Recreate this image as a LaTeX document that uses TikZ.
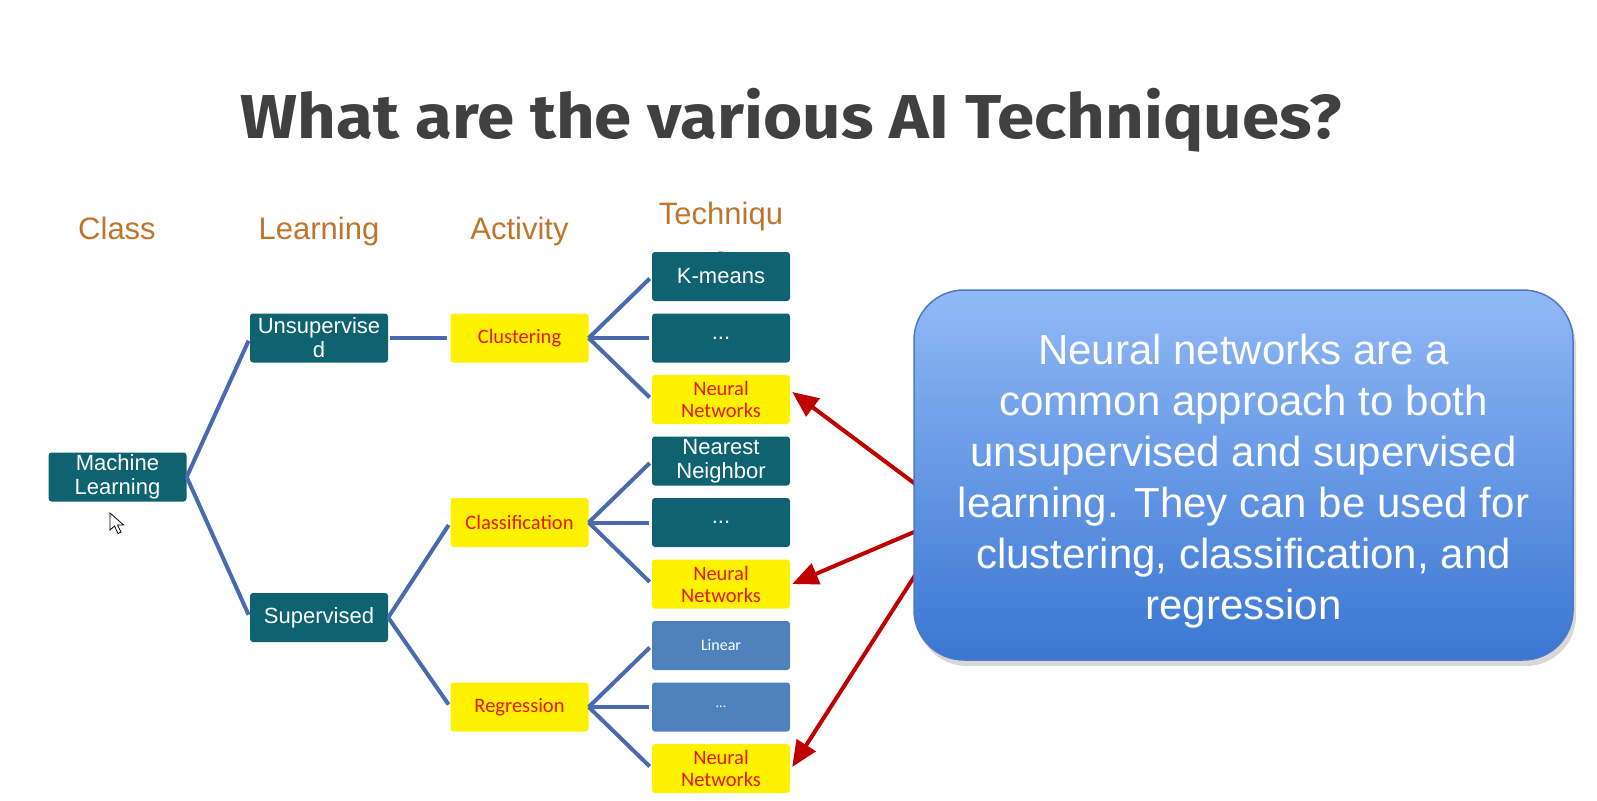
\documentclass[tikz,border=0pt]{standalone}
\usepackage{graphicx}
\usepackage{fontspec}
\setmainfont{Liberation Sans}
\newfontfamily\carl{Carlito}
\newfontfamily\titlef{Fira Sans}
\usetikzlibrary{arrows.meta,shadows}
\definecolor{tealbox}{RGB}{15,98,112}
\definecolor{lightbox}{RGB}{79,129,189}
\definecolor{conncol}{RGB}{74,106,176}
\definecolor{redtxt}{RGB}{228,24,0}
\definecolor{hdr}{RGB}{191,118,44}
\definecolor{titlecol}{RGB}{64,64,64}
\definecolor{arrred}{RGB}{192,0,0}
\definecolor{cotop}{RGB}{145,185,246}
\definecolor{cobot}{RGB}{58,118,210}
\definecolor{coborder}{RGB}{80,120,200}
\begin{document}
\begin{tikzpicture}[x=1pt,y=-1pt,
 box/.style={rounded corners=3pt, minimum width=138pt, minimum height=49pt, inner sep=0pt, align=center},
 tealnode/.style={box, fill=tealbox, text=white, font=\fontsize{22}{24}\selectfont},
 yelnode/.style={box, fill=yellow, text=redtxt, font=\carl\fontsize{20.5}{22}\selectfont},
 lightnode/.style={box, fill=lightbox, text=white, font=\carl\fontsize{16}{18}\selectfont},
 hdrtext/.style={text=hdr, font=\fontsize{31}{36}\selectfont, anchor=base, inner sep=0pt},
 conn/.style={draw=conncol, line width=4pt, shorten >=3pt},
 redarrow/.style={draw=arrred, line width=4pt, -{Triangle[length=26pt,width=22pt]}},
 callout/.style={rounded corners=50pt, minimum width=659pt, minimum height=370pt, top color=cotop, bottom color=cobot, draw=coborder, line width=1.5pt, drop shadow={opacity=0.3, shadow xshift=3pt, shadow yshift=-6pt}},
 callouttext/.style={text=white, align=center, font=\fontsize{42}{51}\selectfont, inner sep=0pt},
]
\useasboundingbox (0,0) rectangle (1597,800);
\fill[white] (0,0) rectangle (1597,800);

% title
\node[anchor=base, text=titlecol, inner sep=0pt] (title) at (791.5,138)
  {\resizebox{1101pt}{\height}{\titlef\bfseries\fontsize{62}{70}\selectfont What are the various AI Techniques?}};

% headers
\node[hdrtext] (hclass) at (117,239) {Class};
\node[hdrtext] (hlearn) at (319,239) {Learning};
\node[hdrtext] (hact) at (519.5,239) {Activity};
\node[hdrtext] (htech) at (721,224) {Techniqu};
\node[hdrtext] (htechb) at (721,268) {e};

% nodes
\node[tealnode] (ml) at (117.5,477) {Machine\\Learning};
\node[tealnode] (uns) at (319,338) {Unsupervise\\d};
\node[tealnode] (sup) at (319,617.5) {Supervised};
\node[yelnode] (clu) at (519.5,338) {Clustering};
\node[yelnode] (cla) at (519.5,522.5) {Classification};
\node[yelnode] (reg) at (519.5,707) {Regression};
\node[tealnode] (t1) at (721,276.5) {K-means};
\node[tealnode] (t2) at (721,338) {...};
\node[yelnode] (t3) at (721,399.5) {Neural\\Networks};
\node[tealnode] (t4) at (721,461) {Nearest\\Neighbor};
\node[tealnode] (t5) at (721,522.5) {...};
\node[yelnode] (t6) at (721,584) {Neural\\Networks};
\node[lightnode] (t7) at (721,645.5) {Linear};
\node[lightnode, font=\carl\fontsize{14}{15}\selectfont] (t8) at (721,707) {...};
\node[yelnode] (t9) at (721,768.5) {Neural\\Networks};

% connectors
\draw[conn] (ml.east) -- (uns.west);
\draw[conn] (ml.east) -- (sup.west);
\draw[conn, shorten <=2pt] (uns.east) -- (clu.west);
\draw[conn] (sup.east) -- (cla.west);
\draw[conn] (sup.east) -- (reg.west);
\foreach \t in {t1,t2,t3} \draw[conn] (clu.east) -- (\t.west);
\foreach \t in {t4,t5,t6} \draw[conn] (cla.east) -- (\t.west);
\foreach \t in {t7,t8,t9} \draw[conn] (reg.east) -- (\t.west);

% red arrows
\coordinate (s1) at (922,489);
\coordinate (s2) at (922,528.6);
\coordinate (s3) at (922,564.5);
\draw[redarrow] (s1) -- ([shift={(2,-7.5)}]t3.east);
\draw[redarrow] (s2) -- ([shift={(2,0)}]t6.east);
\draw[redarrow] (s3) -- ([shift={(2,-1.5)}]t9.east);

% callout
\node[callout] (co) at (1243.5,475) {};
\node[callouttext] (cotext) at (1243.5,481) {Neural networks are a\\common approach to both\\unsupervised and supervised\\learning. They can be used for\\clustering, classification, and\\regression};

% mouse cursor
\draw[fill=white, line width=0.8pt, line join=miter] (110,513) -- ++(0,17) -- ++(4.5,-4) -- ++(3.5,7.5) -- ++(3,-1.4) -- ++(-3.5,-7.2) -- ++(6,0) -- cycle;
\end{tikzpicture}
\end{document}
